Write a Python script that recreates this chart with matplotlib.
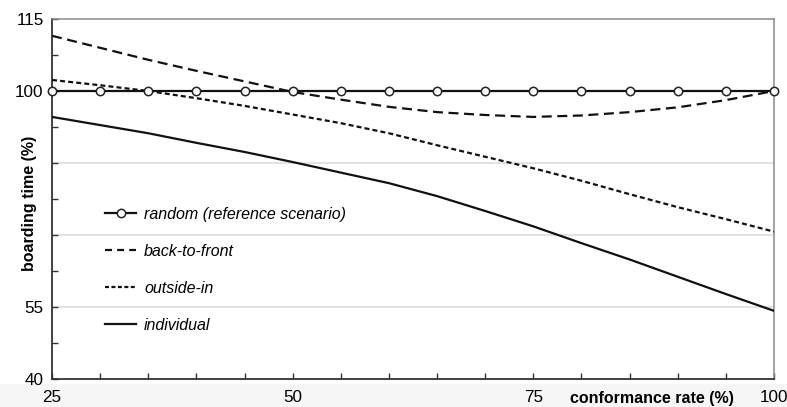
import matplotlib
matplotlib.use("Agg")
import matplotlib.pyplot as plt
from matplotlib.patches import Rectangle
from matplotlib.lines import Line2D

plt.rcParams['font.family'] = ['Liberation Sans', 'DejaVu Sans']

conformance = [25, 30, 35, 40, 45, 50, 55, 60, 65, 70, 75, 80, 85, 90, 95, 100]
random_ref = [100] * 16
back_to_front = [111.5, 109.0, 106.5, 104.2, 102.0, 99.8, 98.2, 96.7, 95.6, 95.0, 94.6, 94.9, 95.6, 96.6, 98.1, 100.0]
outside_in = [102.3, 101.2, 100.0, 98.5, 96.9, 95.1, 93.3, 91.2, 88.7, 86.3, 83.9, 81.3, 78.5, 75.8, 73.3, 70.7]
individual = [94.6, 92.9, 91.2, 89.2, 87.3, 85.2, 83.0, 80.8, 78.1, 75.0, 71.8, 68.3, 64.9, 61.3, 57.7, 54.2]

labels = ["random (reference scenario)", "back-to-front", "outside-in", "individual"]
y_major = [40, 55, 70, 85, 100, 115]
y_major_labels = ["40", "55", "", "", "100", "115"]
x_major = [25, 50, 75, 100]

fig = plt.figure(figsize=(7.87, 4.07), dpi=100)
band = Rectangle((0, 0), 1, 23 / 407, transform=fig.transFigure,
                 facecolor="#f6f6f6", edgecolor="none", zorder=-5)
fig.patches.append(band)
ax = fig.add_axes([52 / 787, 1 - 379 / 407, 722 / 787, 360 / 407])
ax.set_facecolor("white")

lc = "#111111"
lw = 1.6
mk = dict(marker="o", markersize=6, markerfacecolor="white",
          markeredgecolor="#222222", markeredgewidth=1.1)
ax.plot(conformance, random_ref, color=lc, lw=lw, zorder=5, clip_on=False, **mk)
ax.plot(conformance, back_to_front, color=lc, lw=lw, dashes=(4.5, 2.5), zorder=4)
ax.plot(conformance, outside_in, color=lc, lw=lw, dashes=(2.25, 1.4), zorder=4)
ax.plot(conformance, individual, color=lc, lw=lw, zorder=4)

ax.set_xlim(25, 100)
ax.set_ylim(40, 115)
ax.set_xticks(x_major)
ax.set_xticks(list(range(25, 101, 5)), minor=True)
ax.set_yticks(y_major)
ax.set_yticklabels(y_major_labels)
ax.set_yticks([47.5, 62.5, 77.5, 92.5, 107.5], minor=True)

for v in [55, 70, 85, 100]:
    ax.axhline(v, color="#e3e3e3", lw=1.4, zorder=1)

ax.tick_params(axis="both", which="both", direction="in", length=4, width=1.0,
               color="#333333", labelsize=12.3)
ax.tick_params(axis="y", pad=6)
ax.tick_params(axis="x", pad=8)

for s in ["left", "bottom"]:
    ax.spines[s].set_color("#333333")
    ax.spines[s].set_linewidth(1.3)
for s in ["top", "right"]:
    ax.spines[s].set_color("#8a8a8a")
    ax.spines[s].set_linewidth(1.1)

fig.text(652 / 787, 1 - 398 / 407, "conformance rate (%)",
         ha="center", va="center", fontsize=11.5, fontweight="bold")
fig.text(30 / 787, 1 - 203 / 407, "boarding time (%)",
         ha="center", va="center", rotation=90, fontsize=11.5, fontweight="bold")

handles = [
    Line2D([], [], color=lc, lw=lw, **mk),
    Line2D([], [], color=lc, lw=lw, dashes=(3.15, 2.3)),
    Line2D([], [], color=lc, lw=lw, dashes=(1.8, 1.1)),
    Line2D([], [], color=lc, lw=lw),
]
leg = ax.legend(handles, labels, loc="upper left",
                bbox_to_anchor=((105 - 52) / 722, (379 - 207) / 360),
                frameon=False, fontsize=11.5, handlelength=1.95, handletextpad=0.5,
                labelspacing=1.37, borderpad=0, borderaxespad=0)
for t in leg.get_texts():
    t.set_fontstyle("italic")

fig.savefig("out.png", dpi=100)
